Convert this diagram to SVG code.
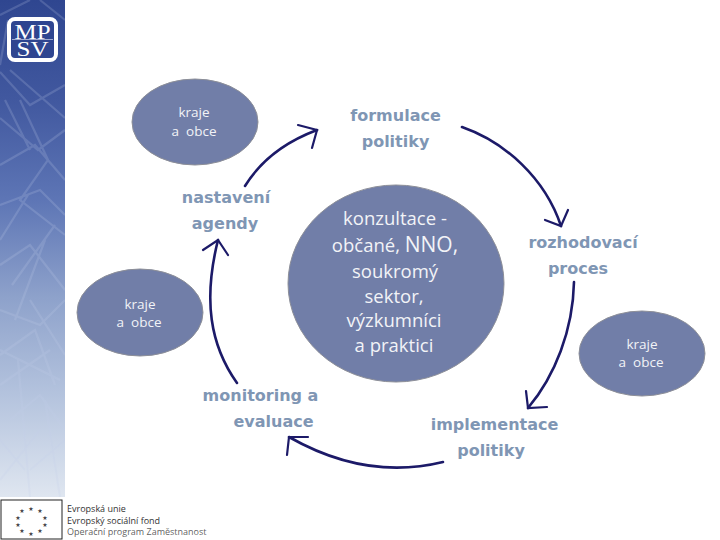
<svg xmlns="http://www.w3.org/2000/svg" width="720" height="540" viewBox="0 0 720 540">
<style>
.lbl{font-family:"DejaVu Sans",sans-serif;font-weight:700;font-size:16px;fill:#7f96b4;text-anchor:middle}
.small{font-family:"Open Sans",sans-serif;font-size:13.5px;fill:#f2f3f7;text-anchor:middle;white-space:pre}
.big{font-family:"Open Sans",sans-serif;font-size:18.5px;fill:#f2f3f7;text-anchor:middle}
.ell{fill:#717ea8;stroke:#8d8f98;stroke-width:1}
.arc{fill:none;stroke:#1c1a68;stroke-width:2.6;stroke-linecap:round}
.head{fill:none;stroke:#1c1a68;stroke-width:2.2;stroke-linecap:round;stroke-linejoin:miter}
.eu{font-family:"Open Sans",sans-serif;font-size:9px;fill:#333}
.tex{fill:none;stroke:#c4cfea;stroke-width:2.2;opacity:.2}
.star{font-family:"DejaVu Sans",sans-serif;font-size:6px;fill:#444;text-anchor:middle}
</style>
<defs>
<linearGradient id="side" gradientUnits="userSpaceOnUse" x1="0" y1="0" x2="0" y2="497">
<stop offset="0" stop-color="#2f4690"/>
<stop offset=".2" stop-color="#41589f"/>
<stop offset=".4" stop-color="#5d75b5"/>
<stop offset=".6" stop-color="#8ea2cb"/>
<stop offset=".8" stop-color="#b5c4de"/>
<stop offset="1" stop-color="#dfe6f0"/>
</linearGradient>
<filter id="soft" x="0" y="0" width="1" height="1"><feGaussianBlur stdDeviation="0.7"/></filter>
<clipPath id="sideclip"><rect width="65" height="497"/></clipPath>
</defs>
<rect width="720" height="540" fill="#fff"/>
<g id="sidebar">
<rect width="65" height="497" fill="url(#side)"/>
<g clip-path="url(#sideclip)"><path class="tex" filter="url(#soft)" d="M0 72L30 105L65 85M10 70L65 118M0 118L38 150L65 130M20 100L48 160L20 200L65 235M0 165L35 145L65 180M0 205L40 190L65 215M0 240L28 195M0 265L30 245L65 290M12 285L55 225M0 310L40 325L65 300M30 300L65 355M0 355L35 330L55 385M0 385L50 350M10 420L40 395L65 430M0 440L25 470M30 470L65 440M5 100L30 150M45 240L15 320M0 350L60 380M18 360L30 497M45 400L60 497M0 480L40 430M0 15L30 0M40 0L65 20M0 65L8 20"/></g>
<rect x="9" y="19" width="47" height="41" rx="6" fill="#2f4590" stroke="#fff" stroke-width="4"/>
<line x1="12" y1="39.500" x2="53" y2="39.500" stroke="#9fa9cf" stroke-width="1"/>
<text x="32.500" y="38.500" font-family="Liberation Serif,serif" font-size="20" fill="#fff" text-anchor="middle" textLength="36" lengthAdjust="spacingAndGlyphs">MP</text>
<text x="32.500" y="55.500" font-family="Liberation Serif,serif" font-size="20" fill="#fff" text-anchor="middle" textLength="32" lengthAdjust="spacingAndGlyphs">SV</text>
</g>
<g id="connectors">
<path class="arc" d="M245 186C261 160 285 142 317 130"/>
<path class="head" d="M298 125L317 130L312 148"/>
<path class="arc" d="M462 127C505 142 545 178 561 226"/>
<path class="head" d="M545 220L561 226L568 210"/>
<path class="arc" d="M574 282C573 330 555 376 528 408"/>
<path class="head" d="M526 391L528 408L547 407"/>
<path class="arc" d="M443 462C390 475 340 466 289 437"/>
<path class="head" d="M287 455L289 437L308 437"/>
<path class="arc" d="M237 383C210 345 203 300 218 240"/>
<path class="head" d="M203 250L218 240L228 255"/>
</g>
<g id="node-kraje-1">
<ellipse class="ell" cx="195" cy="122" rx="63" ry="43"/>
<text class="small" x="194" y="117">kraje</text>
<text class="small" x="194" y="136" xml:space="preserve">a  obce</text>
</g>
<g id="node-kraje-2">
<ellipse class="ell" cx="140" cy="312.500" rx="63" ry="43.500"/>
<text class="small" x="140" y="309">kraje</text>
<text class="small" x="139" y="327" xml:space="preserve">a  obce</text>
</g>
<g id="node-kraje-3">
<ellipse class="ell" cx="642" cy="353.500" rx="63" ry="42.500"/>
<text class="small" x="642" y="349">kraje</text>
<text class="small" x="641" y="367" xml:space="preserve">a  obce</text>
</g>
<g id="node-center">
<ellipse class="ell" cx="396" cy="283.500" rx="108" ry="98.500" stroke="none"/>
<text class="big" x="395" y="225">konzultace -</text>
<text class="big" x="395" y="252">občané, <tspan font-size="21">NNO,</tspan></text>
<text class="big" x="395" y="278">soukromý</text>
<text class="big" x="394" y="303">sektor,</text>
<text class="big" x="394" y="327">výzkumníci</text>
<text class="big" x="394" y="352">a praktici</text>
</g>
<g id="node-formulace">
<text class="lbl" x="395.500" y="121">formulace</text>
<text class="lbl" x="395.500" y="147">politiky</text>
</g>
<g id="node-rozhodovaci">
<text class="lbl" x="583" y="248">rozhodovací</text>
<text class="lbl" x="578" y="274">proces</text>
</g>
<g id="node-implementace">
<text class="lbl" x="494.500" y="430">implementace</text>
<text class="lbl" x="491" y="456">politiky</text>
</g>
<g id="node-monitoring">
<text class="lbl" x="260.500" y="401">monitoring a</text>
<text class="lbl" x="273.500" y="427">evaluace</text>
</g>
<g id="node-nastaveni">
<text class="lbl" x="226" y="203">nastavení</text>
<text class="lbl" x="225" y="229">agendy</text>
</g>
<g id="footer">
<rect x="1" y="500" width="61" height="39" fill="#fff" stroke="#222" stroke-width="1"/>
<g class="stars">
<text class="star" x="31" y="511">★</text><text class="star" x="40" y="513">★</text><text class="star" x="45" y="520">★</text><text class="star" x="45" y="527">★</text><text class="star" x="40" y="533">★</text><text class="star" x="31" y="536">★</text><text class="star" x="22" y="533">★</text><text class="star" x="18" y="527">★</text><text class="star" x="18" y="520">★</text><text class="star" x="22" y="513">★</text>
</g>
<text class="eu" x="67" y="512">Evropská unie</text>
<text class="eu" x="67" y="523.500">Evropský sociální fond</text>
<text class="eu" x="67" y="535" fill-opacity=".8">Operační program Zaměstnanost</text>
</g>
</svg>
